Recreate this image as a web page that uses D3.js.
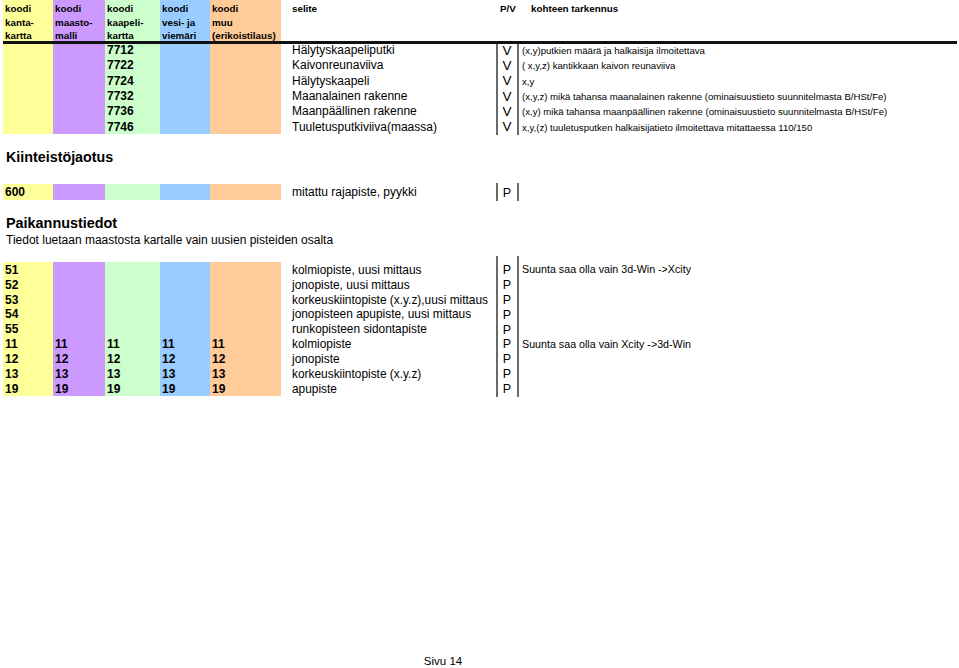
<!DOCTYPE html>
<html><head><meta charset="utf-8">
<script src="https://cdn.jsdelivr.net/npm/d3@7"></script>
<style>body{margin:0;background:#fff}svg{display:block;font-family:"Liberation Sans",Arial,Helvetica,sans-serif}</style>
</head><body><svg id="c" width="959" height="668"></svg>
<script>
// ---- data ----
const columns = ["kantakartta","maastomalli","kaapelikartta","vesijaviemari","muu"];
const columnHeaders = [["koodi","kanta-","kartta"],["koodi","maasto-","malli"],["koodi","kaapeli-","kartta"],["koodi","vesi- ja","viemäri"],["koodi","muu","(erikoistilaus)"]];
const otherHeaders = ["selite","P/V","kohteen tarkennus"];

const topCodes = [["","","7712","",""],["","","7722","",""],["","","7724","",""],["","","7732","",""],["","","7736","",""],["","","7746","",""]];
const topLabels = ["Hälytyskaapeliputki","Kaivonreunaviiva","Hälytyskaapeli","Maanalainen rakenne","Maanpäällinen rakenne","Tuuletusputkiviiva(maassa)"];
const topPV = ["V","V","V","V","V","V"];
const topNotes = ["(x,y)putkien määrä ja halkaisija ilmoitettava","( x,y,z) kantikkaan kaivon reunaviiva","x,y","(x,y,z) mikä tahansa maanalainen rakenne (ominaisuustieto suunnitelmasta B/HSt/Fe)","(x,y) mikä tahansa maanpäällinen rakenne (ominaisuustieto suunnitelmasta B/HSt/Fe)","x,y,(z) tuuletusputken halkaisijatieto ilmoitettava mitattaessa 110/150"];

const section1Title = "Kiinteistöjaotus";
const kiintCodes = [["600","","","",""]];
const kiintLabels = ["mitattu rajapiste, pyykki"];
const kiintPV = ["P"];
const kiintNotes = [""];

const section2Title = "Paikannustiedot";
const section2Sub = "Tiedot luetaan maastosta kartalle vain uusien pisteiden osalta";
const paikCodes = [["51","","","",""],["52","","","",""],["53","","","",""],["54","","","",""],["55","","","",""],["11","11","11","11","11"],["12","12","12","12","12"],["13","13","13","13","13"],["19","19","19","19","19"]];
const paikLabels = ["kolmiopiste, uusi mittaus","jonopiste, uusi mittaus","korkeuskiintopiste (x.y.z),uusi mittaus","jonopisteen apupiste, uusi mittaus","runkopisteen sidontapiste","kolmiopiste","jonopiste","korkeuskiintopiste (x.y.z)","apupiste"];
const paikPV = ["P","P","P","P","P","P","P","P","P"];
const paikNotes = ["Suunta saa olla vain 3d-Win ->Xcity","","","","","Suunta saa olla vain Xcity ->3d-Win","","",""];

const footer = "Sivu 14";

// ---- drawing ----
const colors = ["#FFFF99","#CC99FF","#CCFFCC","#99CCFF","#FFCC99"];
const svg = d3.select("#c");
const colEdges = [3,53,105,160,210,281];
const x = d3.scaleOrdinal().domain(columns).range(colEdges.slice(0,5));
const w = c => colEdges[columns.indexOf(c)+1] - x(c);
const selX = 292, pvL = 497, pvR = 518, noteX = 522, pvX = 507;

// header band
svg.selectAll("rect.h").data(columns).join("rect")
  .attr("x", d=>x(d)).attr("y",0).attr("width", d=>w(d)).attr("height",41)
  .attr("fill",(d,i)=>colors[i]);
columnHeaders.forEach((lines,i)=>{
  lines.forEach((t,j)=>{
    svg.append("text").attr("x", x(columns[i])+2).attr("y", 9+j*13.3).attr("dy","0.35em")
      .attr("font-size",9.8).attr("font-weight","bold").attr("fill","#000").text(t);
  });
});
svg.append("text").attr("x",selX).attr("y",9).attr("dy","0.35em").attr("font-size",9.8).attr("font-weight","bold").text(otherHeaders[0]);
svg.append("text").attr("x",500).attr("y",9).attr("dy","0.35em").attr("font-size",9.8).attr("font-weight","bold").text(otherHeaders[1]);
svg.append("text").attr("x",531).attr("y",9).attr("dy","0.35em").attr("font-size",9.8).attr("font-weight","bold").text(otherHeaders[2]);

function section(codes, labels, pv, notes, y0, y1, vTop, vBot, opt){
  const y = d3.scaleBand().domain(d3.range(codes.length)).range([y0,y1]);
  svg.selectAll(null).data(columns).join("rect")
    .attr("x", d=>x(d)).attr("y",y0).attr("width", d=>w(d)).attr("height",y1-y0)
    .attr("fill",(d,i)=>colors[i]);
  const g = svg.append("g");
  codes.forEach((row,r)=>{
    const cy = y(r)+y.bandwidth()/2;
    row.forEach((t,c)=>{
      if(!t) return;
      g.append("text").attr("x", x(columns[c]) + 2).attr("y", cy).attr("dy","0.36em")
        .attr("font-size",opt.codeSize).attr("font-weight","bold").text(t);
    });
    g.append("text").attr("x",selX).attr("y",cy).attr("dy","0.36em")
      .attr("font-size",opt.labelSize).text(labels[r]);
    g.append("text").attr("x",pvX).attr("y",cy).attr("dy","0.36em")
      .attr("text-anchor","middle").attr("font-size",opt.pvSize).text(pv[r]);
    if(notes[r]) g.append("text").attr("x",noteX).attr("y",cy+opt.noteDy).attr("dy","0.36em")
      .attr("font-size",opt.noteSize).text(notes[r]);
  });
  [pvL,pvR].forEach(xx=>svg.append("line").attr("x1",xx).attr("x2",xx).attr("y1",vTop).attr("y2",vBot)
    .attr("stroke","#444").attr("stroke-width",1.6));
}

section(topCodes, topLabels, topPV, topNotes, 42, 134, 43, 135, {codeSize:12, labelSize:12, pvSize:13.5, noteSize:9.6, noteDy:1});
// header rule
svg.append("line").attr("x1",3).attr("x2",957).attr("y1",42.5).attr("y2",42.5).attr("stroke","#111").attr("stroke-width",3);

svg.append("text").attr("x",6).attr("y",157).attr("dy","0.35em").attr("font-size",14.3).attr("font-weight","bold").text(section1Title);
section(kiintCodes, kiintLabels, kiintPV, kiintNotes, 184, 200, 183, 201, {codeSize:12, labelSize:12, pvSize:12.5, noteSize:10.7, noteDy:0});

svg.append("text").attr("x",6).attr("y",223).attr("dy","0.35em").attr("font-size",14.4).attr("font-weight","bold").text(section2Title);
svg.append("text").attr("x",6).attr("y",240).attr("dy","0.35em").attr("font-size",12).text(section2Sub);
section(paikCodes, paikLabels, paikPV, paikNotes, 262, 396, 256, 397, {codeSize:12, labelSize:11.9, pvSize:12.5, noteSize:10.7, noteDy:0});

svg.append("text").attr("x",443).attr("y",661).attr("dy","0.35em").attr("text-anchor","middle").attr("font-size",11.5).text(footer);
</script></body></html>
